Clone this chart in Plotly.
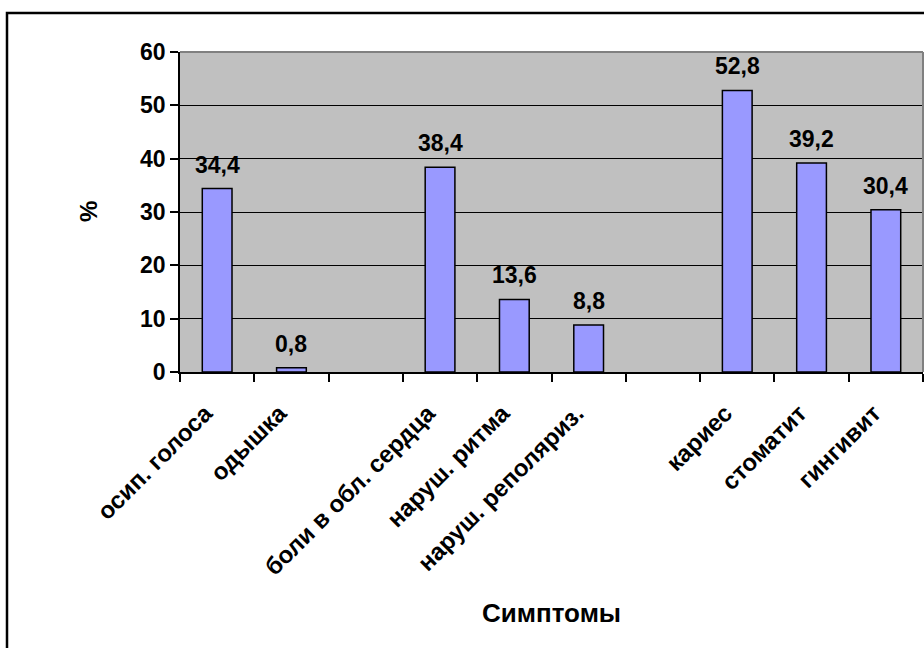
import plotly.graph_objects as go

categories = ["осип. голоса", "одышка", " ", "боли в обл. сердца", "наруш. ритма",
              "наруш. реполяриз.", "  ", "кариес", "стоматит", "гингивит"]
values = [34.4, 0.8, None, 38.4, 13.6, 8.8, None, 52.8, 39.2, 30.4]
y_ticks = [0, 10, 20, 30, 40, 50, 60]
x_title = "Симптомы"
y_title = "%"

FONT = "Arial, Liberation Sans, sans-serif"

labels = ["" if v is None else f"{v:.1f}".replace(".", ",") for v in values]

fig = go.Figure(go.Bar(
    x=categories, y=values,
    marker=dict(color="#9999FF", line=dict(color="black", width=1.5)),
    width=0.4,
))

for c, v, t in zip(categories, values, labels):
    if v is None:
        continue
    fig.add_annotation(x=c, y=v, text=t, showarrow=False, xanchor="center",
                       yanchor="bottom", yshift=9,
                       font=dict(family=FONT, size=23, color="black", weight="bold"))

fig.update_layout(
    width=924, height=648,
    margin=dict(l=180, r=1, t=52, b=276),
    paper_bgcolor="white", plot_bgcolor="#C0C0C0",
    showlegend=False,
    font=dict(family=FONT, color="black"),
)
fig.update_xaxes(
    type="category", categoryorder="array", categoryarray=categories,
    tickson="boundaries", ticks="outside", ticklen=8, tickcolor="black", tickwidth=1.5,
    tickangle=-45, tickfont=dict(family=FONT, size=24, color="black", weight="bold"),
    ticklabelstandoff=16, ticklabelshift=-12,
    showline=True, linecolor="black", linewidth=1.5, showgrid=False,
    range=[-0.5, 9.5],
)
fig.update_yaxes(
    range=[0, 60], tickvals=y_ticks, ticks="outside", ticklen=8,
    tickcolor="black", tickwidth=1.5,
    tickfont=dict(family=FONT, size=23, color="black", weight="bold"),
    showline=True, linecolor="black", linewidth=1.5,
    showgrid=True, gridcolor="black", gridwidth=1, zeroline=False,
)

# plot-area border (top & right, gray)
fig.add_shape(type="line", xref="paper", yref="paper", x0=0, x1=1, y0=1, y1=1,
              line=dict(color="#808080", width=2))
fig.add_shape(type="line", xref="paper", yref="paper", x0=1, x1=1, y0=0, y1=1,
              line=dict(color="#808080", width=2))
# outer chart frame
fig.add_shape(type="rect", xref="paper", yref="paper",
              x0=(7 - 180) / 743, x1=1.05, y0=-0.95, y1=(372 - 13) / 320,
              line=dict(color="black", width=2.5), fillcolor="rgba(0,0,0,0)")

fig.add_annotation(text=x_title, xref="paper", yref="paper", x=(551 - 180) / 743,
                   y=(372 - 613) / 320, xanchor="center", yanchor="middle",
                   showarrow=False, font=dict(family=FONT, size=26, color="black", weight="bold"))
fig.add_annotation(text=y_title, xref="paper", yref="paper", x=(88 - 180) / 743, y=0.5,
                   xanchor="center", yanchor="middle",
                   textangle=-90, showarrow=False,
                   font=dict(family=FONT, size=24, color="black", weight="bold"))

fig.write_html("out.html", post_script="document.body.style.margin='0';",
               config={"displayModeBar": False})
